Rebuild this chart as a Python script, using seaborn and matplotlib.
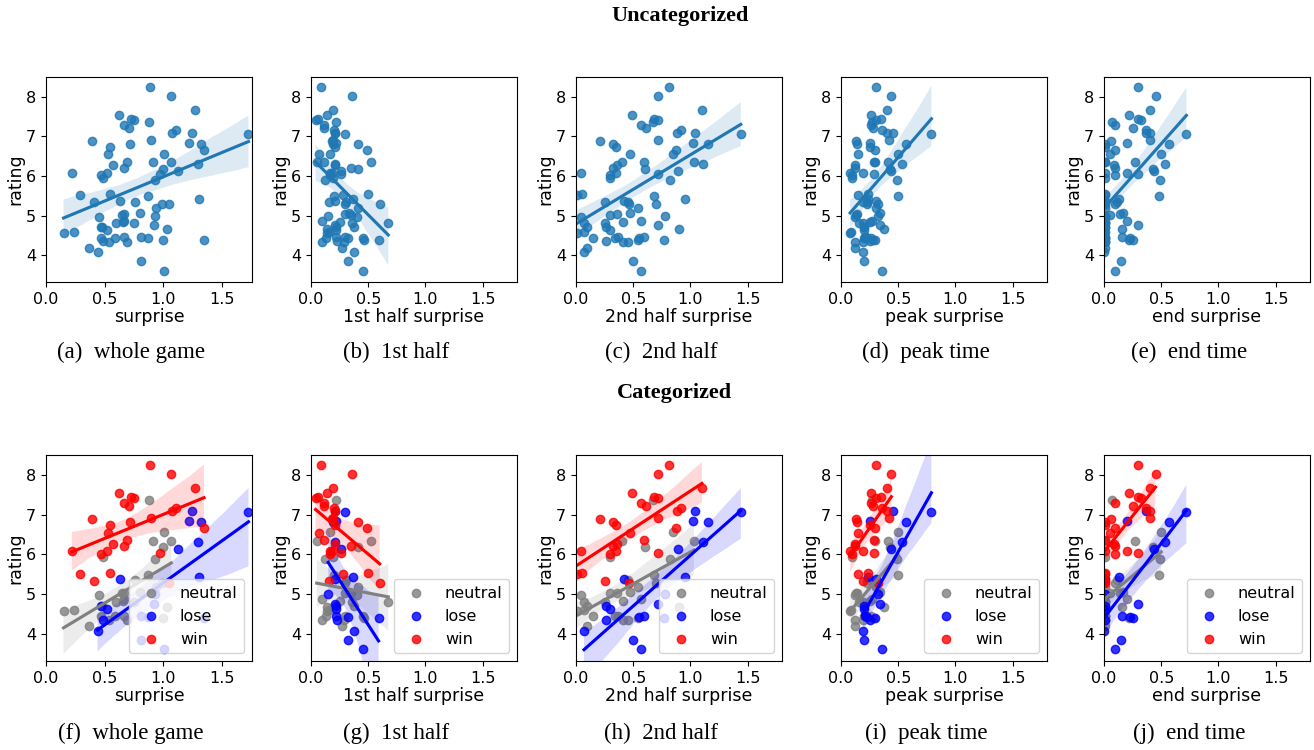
import matplotlib
matplotlib.use("Agg")
import pandas as pd
import matplotlib.pyplot as plt
import seaborn as sns

# game ratings and outcome category
rating = [7.08, 7.07, 6.84, 6.81, 6.31, 6.13, 5.42, 5.37, 5.00, 4.75, 4.71, 4.63, 4.46, 4.43, 4.39, 4.35, 4.08, 3.85, 3.61,
          8.24, 8.01, 7.66, 7.55, 7.45, 7.42, 7.29, 7.22, 7.16, 7.08, 6.92, 6.88, 6.81, 6.73, 6.66, 6.55, 6.36, 6.27, 6.21,
          6.08, 6.08, 6.02, 6.04, 5.54, 5.51, 5.33, 5.29,
          7.37, 6.56, 6.34, 6.34, 6.18, 5.94, 5.89, 5.49, 5.35, 5.29, 5.19, 5.06, 5.04, 5.02, 4.97, 4.87, 4.84, 4.81, 4.81,
          4.70, 4.67, 4.59, 4.57, 4.44, 4.44, 4.45, 4.39, 4.34, 4.34, 4.19]
category = ["lose"] * 19 + ["win"] * 27 + ["neutral"] * 30

# surprise measures per game
whole = [1.25, 1.73, 1.22, 1.32, 1.30, 1.13, 1.31, 0.63, 0.93, 0.92, 0.47, 0.52, 0.81, 0.87, 1.35, 0.49, 0.44, 0.81, 1.01,
         0.89, 1.07, 1.27, 0.62, 0.73, 0.75, 0.67, 0.71, 1.11, 1.08, 0.90, 0.39, 0.72, 0.55, 1.35, 0.53, 0.69, 0.57, 0.67,
         0.22, 0.52, 0.47, 0.97, 0.55, 0.29, 0.41, 1.05,
         0.88, 1.01, 0.91, 1.07, 1.00, 0.49, 0.93, 0.87, 0.76, 0.99, 0.94, 0.80, 0.67, 0.65, 0.45, 0.67, 0.66, 0.60, 0.75,
         0.48, 1.03, 0.24, 0.15, 0.47, 0.59, 0.67, 1.00, 0.54, 0.69, 0.37]
half1 = [0.21, 0.30, 0.22, 0.19, 0.21, 0.26, 0.37, 0.21, 0.15, 0.21, 0.22, 0.22, 0.22, 0.32, 0.59, 0.23, 0.38, 0.32, 0.45,
         0.09, 0.36, 0.19, 0.14, 0.06, 0.04, 0.11, 0.11, 0.20, 0.21, 0.19, 0.18, 0.41, 0.21, 0.49, 0.07, 0.11, 0.21, 0.35,
         0.18, 0.17, 0.17, 0.26, 0.50, 0.28, 0.16, 0.60,
         0.22, 0.17, 0.52, 0.05, 0.41, 0.19, 0.12, 0.20, 0.31, 0.30, 0.41, 0.33, 0.30, 0.35, 0.40, 0.10, 0.25, 0.36, 0.675,
         0.38, 0.14, 0.16, 0.14, 0.13, 0.45, 0.30, 0.46, 0.10, 0.29, 0.27]
half2 = [1.04, 1.44, 1.02, 1.15, 1.11, 0.89, 0.95, 0.42, 0.78, 0.72, 0.26, 0.30, 0.59, 0.55, 0.77, 0.26, 0.07, 0.50, 0.57,
         0.81, 0.72, 1.10, 0.49, 0.68, 0.72, 0.57, 0.61, 0.92, 0.88, 0.72, 0.21, 0.32, 0.35, 0.87, 0.47, 0.59, 0.36, 0.32,
         0.04, 0.35, 0.30, 0.72, 0.05, 0.01, 0.25, 0.46,
         0.67, 0.85, 0.40, 1.03, 0.60, 0.30, 0.82, 0.68, 0.45, 0.70, 0.54, 0.47, 0.36, 0.30, 0.04, 0.57, 0.41, 0.25, 0.07,
         0.10, 0.90, 0.07, 0.01, 0.34, 0.15, 0.37, 0.54, 0.45, 0.41, 0.10]
peak = [0.45, 0.79, 0.25, 0.57, 0.53, 0.44, 0.24, 0.31, 0.32, 0.34, 0.20, 0.20, 0.21, 0.23, 0.30, 0.25, 0.19, 0.20, 0.36,
        0.31, 0.44, 0.40, 0.26, 0.35, 0.31, 0.26, 0.28, 0.36, 0.40, 0.42, 0.13, 0.14, 0.25, 0.30, 0.15, 0.29, 0.12, 0.12,
        0.08, 0.19, 0.10, 0.29, 0.24, 0.15, 0.19, 0.32,
        0.27, 0.50, 0.41, 0.30, 0.43, 0.10, 0.49, 0.50, 0.23, 0.23, 0.31, 0.34, 0.14, 0.13, 0.12, 0.27, 0.25, 0.19, 0.16,
        0.20, 0.38, 0.09, 0.08, 0.20, 0.26, 0.22, 0.28, 0.19, 0.12, 0.12]
end = [0.37, 0.72, 0.20, 0.565, 0.53, 0.44, 0.13, 0.01, 0.01, 0.30, 0.01, 0.00, 0.16, 0.23, 0.25, 0.01, 0.00, 0.15, 0.10,
       0.30, 0.45, 0.40, 0.22, 0.30, 0.32, 0.10, 0.25, 0.37, 0.40, 0.40, 0.06, 0.01, 0.01, 0.10, 0.05, 0.01, 0.09, 0.10,
       0.01, 0.20, 0.10, 0.30, 0.01, 0.01, 0.01, 0.01,
       0.07, 0.50, 0.27, 0.01, 0.43, 0.01, 0.49, 0.48, 0.11, 0.10, 0.01, 0.17, 0.14, 0.05, 0.01, 0.20, 0.01, 0.01, 0.01,
       0.01, 0.16, 0.01, 0.00, 0.01, 0.01, 0.01, 0.22, 0.01, 0.01, 0.01]

df = pd.DataFrame({"rating": rating, "category": category, "whole": whole,
                   "half1": half1, "half2": half2, "peak": peak, "end": end})

columns = ["whole", "half1", "half2", "peak", "end"]
xlabels = ["surprise", "1st half surprise", "2nd half surprise", "peak surprise", "end surprise"]
top_captions = ["(a)  whole game", "(b)  1st half", "(c)  2nd half", "(d)  peak time", "(e)  end time"]
bottom_captions = ["(f)  whole game", "(g)  1st half", "(h)  2nd half", "(i)  peak time", "(j)  end time"]
hue_order = ["neutral", "lose", "win"]
hue_colors = ["gray", "blue", "red"]

W, H = 1314, 750
fig = plt.figure(figsize=(W / 100, H / 100), dpi=100)

lefts = [46, 311, 576, 841, 1104]
xmax = [1.76, 1.8, 1.8, 1.8, 1.8]
serif = "Liberation Serif"


def style_axes(ax, i):
    ax.set_xlim(0, xmax[i])
    ax.set_ylim(3.32, 8.5)
    ax.set_xticks([0.0, 0.5, 1.0, 1.5])
    ax.set_yticks([4, 5, 6, 7, 8])
    ax.tick_params(labelsize=11.5)
    ax.set_xlabel(xlabels[i], fontsize=12.5, labelpad=1)
    ax.set_ylabel("rating", fontsize=12.5, labelpad=1)


# ---- top row: uncategorized ----
for i, col in enumerate(columns):
    ax = fig.add_axes([lefts[i] / W, (H - 282) / H, 206 / W, 205 / H])
    sns.regplot(data=df, x=col, y="rating", ax=ax, color="C0", seed=1)
    style_axes(ax, i)
    fig.text((lefts[i] + 103 - 18) / W, 1 - 352 / H, top_captions[i],
             ha="center", va="center", fontsize=16.5, family=serif)

# ---- bottom row: categorized ----
for i, col in enumerate(columns):
    ax = fig.add_axes([lefts[i] / W, (H - 661) / H, 206 / W, 206 / H])
    for cat, c in zip(hue_order, hue_colors):
        sub = df[df["category"] == cat]
        sns.regplot(data=sub, x=col, y="rating", ax=ax, color=c, label=cat, seed=1)
    style_axes(ax, i)
    ax.legend(loc="lower right", fontsize=11.5)
    fig.text((lefts[i] + 103 - 18) / W, 1 - 733 / H, bottom_captions[i],
             ha="center", va="center", fontsize=16.5, family=serif)

fig.text(680 / W, 1 - 16 / H, "Uncategorized", ha="center", va="center",
         fontsize=16, fontweight="bold", family=serif)
fig.text(674 / W, 1 - 393 / H, "Categorized", ha="center", va="center",
         fontsize=16, fontweight="bold", family=serif)

fig.savefig("out.png", dpi=100)
